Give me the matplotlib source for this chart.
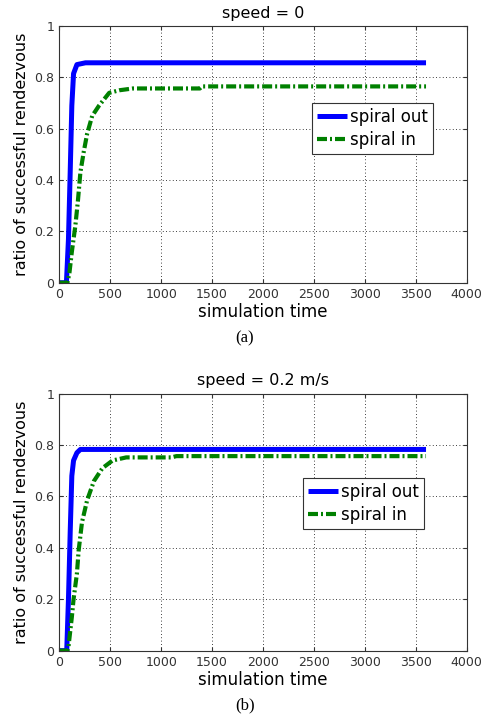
import numpy as np
import matplotlib
matplotlib.use("Agg")
import matplotlib.pyplot as plt

# ---------------------------------------------------------------------------
# Data
# ---------------------------------------------------------------------------
t_out_a = [0, 70, 90, 107, 123, 140, 173, 257, 3600]
y_out_a = [0, 0, 0.17, 0.43, 0.69, 0.815, 0.85, 0.857, 0.857]
t_in_a = [0, 80, 100, 123, 157, 183, 207, 240, 273, 323, 390, 490, 590, 723, 1380, 1400, 3600]
y_in_a = [0, 0, 0.04, 0.12, 0.22, 0.32, 0.43, 0.51, 0.58, 0.65, 0.69, 0.74, 0.75, 0.757, 0.757, 0.765, 0.765]

t_out_b = [0, 73, 90, 107, 123, 140, 173, 207, 3600]
y_out_b = [0, 0, 0.2, 0.46, 0.68, 0.74, 0.77, 0.783, 0.783]
t_in_b = [0, 80, 90, 123, 140, 173, 190, 223, 273, 340, 423, 523, 657, 800, 1100, 1150, 3600]
y_in_b = [0, 0, 0.015, 0.13, 0.2, 0.3, 0.39, 0.5, 0.585, 0.66, 0.71, 0.74, 0.752, 0.752, 0.752, 0.757, 0.757]

x_ticks = list(range(0, 4001, 500))
y_ticks = [0, 0.2, 0.4, 0.6, 0.8, 1]
y_labels = ["0", "0.2", "0.4", "0.6", "0.8", "1"]

plt.rcParams["font.family"] = ["DejaVu Sans"]

fig = plt.figure(figsize=(4.88, 7.27), dpi=100)

panels = [
    ([0.1215, 0.6111, 0.835, 0.353], "speed = 0", t_out_a, y_out_a, t_in_a, y_in_a,
     (0.917, 0.700), "(a)", 0.523),
    ([0.1215, 0.105, 0.835, 0.3535], "speed = 0.2 m/s", t_out_b, y_out_b, t_in_b, y_in_b,
     (0.895, 0.672), "(b)", 0.019),
]

for rect, title, to, yo, ti, yi, leg_anchor, cap, cap_y in panels:
    ax = fig.add_axes(rect)
    ax.plot(to, yo, color="#0000ff", lw=3.6, label="spiral out", solid_capstyle="butt")
    ax.plot(ti, yi, color="#008000", lw=3.0, label="spiral in",
            dashes=(2.4, 0.72, 0.48, 0.72), dash_capstyle="butt")
    ax.set_xlim(0, 4000)
    ax.set_ylim(0, 1)
    ax.set_xticks(x_ticks)
    ax.set_yticks(y_ticks)
    ax.set_yticklabels(y_labels)
    ax.grid(True, color="black", ls=(0, (1, 3)), lw=0.6)
    ax.tick_params(direction="in", labelsize=9, length=3, colors="#333333",
                   top=True, right=True)
    for s in ax.spines.values():
        s.set_color("#333333")
        s.set_linewidth(0.8)
    ax.set_title(title, fontsize=11.5, pad=6)
    ax.set_xlabel("simulation time", fontsize=12, labelpad=2)
    ax.set_ylabel("ratio of successful rendezvous", fontsize=11.5, labelpad=4)
    leg = ax.legend(loc="upper right", bbox_to_anchor=leg_anchor, fontsize=12,
                    handlelength=1.8, handletextpad=0.2, borderpad=0.3,
                    labelspacing=0.3, fancybox=False, framealpha=1,
                    edgecolor="#333333", borderaxespad=0)
    leg.get_frame().set_linewidth(0.8)
    fig.text(0.502, cap_y, cap, ha="center", va="bottom", fontsize=12,
             family="Liberation Serif")

fig.savefig("out.png", dpi=100)
